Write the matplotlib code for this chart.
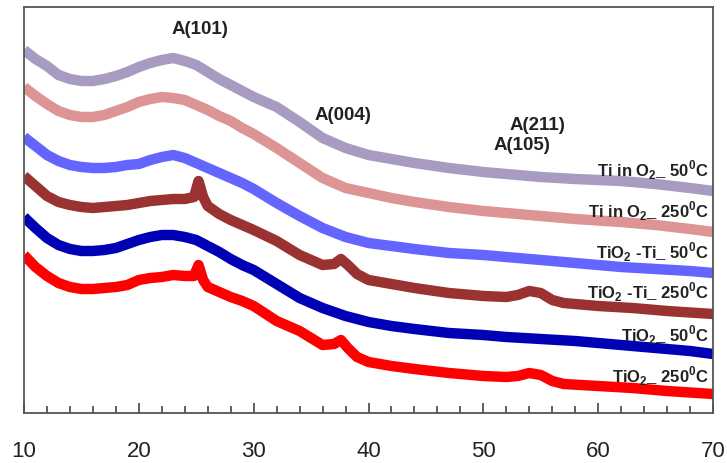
import matplotlib
matplotlib.use("Agg")
import matplotlib.pyplot as plt
from matplotlib.ticker import MultipleLocator

plt.rcParams['font.family'] = ['Liberation Sans', 'DejaVu Sans']
plt.rcParams['mathtext.fontset'] = 'custom'
plt.rcParams['mathtext.rm'] = 'Liberation Sans:bold'
plt.rcParams['mathtext.bf'] = 'Liberation Sans:bold'

# 2-theta grids (degrees)
two_theta_smooth = [10, 11, 12, 13, 14, 15, 16, 17, 18, 19, 20, 21, 22, 23, 24, 25, 26, 27,
                    28, 29, 30, 32, 34, 36, 38, 40, 42, 44, 47, 50, 52, 55, 58, 62, 65, 68, 70]
two_theta_peaks = [10, 11, 12, 13, 14, 15, 16, 17, 18, 19, 20, 21, 22, 23, 24, 24.8, 25.2,
                   25.6, 26, 27, 28, 29, 30, 32, 34, 36, 37, 37.6, 38.2, 39, 40, 42, 44, 47,
                   50, 52, 53, 54, 55, 56, 57, 60, 63, 66, 70]

# intensities (arbitrary units, stacked)
ti_o2_50 = [363, 354, 347, 338, 334, 332, 332, 334, 337, 341, 346, 350, 353, 355, 352, 348,
            341, 334, 328, 322, 316, 306, 291, 275, 265, 258, 254, 250, 245, 241, 239, 236,
            234, 232, 229, 225, 222]
ti_o2_250 = [326, 317, 309, 302, 298, 296, 296, 298, 302, 306, 311, 314, 316, 315, 313, 308,
             303, 297, 292, 285, 279, 265, 250, 235, 225, 220, 215, 211, 206, 202, 200, 197,
             194, 191, 188, 184, 181]
tio2_ti_50 = [276, 267, 258, 252, 248, 246, 245, 245, 246, 248, 249, 253, 256, 258, 255, 250,
              245, 240, 235, 230, 224, 210, 197, 185, 176, 170, 167, 164, 160, 158, 156, 153,
              150, 146, 144, 142, 140]
tio2_50 = [196, 185, 175, 168, 164, 162, 162, 163, 165, 169, 173, 176, 178, 178, 176, 173,
           167, 161, 154, 148, 143, 129, 115, 105, 97, 91, 87, 84, 80, 78, 76, 74,
           72, 68, 65, 62, 59]
tio2_ti_250 = [237, 227, 217, 211, 208, 206, 205, 206, 207, 208, 210, 212, 213, 214, 214, 216,
               232, 216, 207, 199, 193, 188, 183, 172, 158, 148, 149, 154, 148, 139, 133, 129,
               125, 120, 117, 116, 118, 122, 120, 113, 110, 107, 105, 102, 99]
tio2_250 = [158, 146, 137, 130, 126, 124, 124, 125, 126, 128, 133, 135, 136, 138, 137, 137,
            148, 133, 126, 121, 116, 112, 107, 92, 82, 68, 69, 73, 65, 56, 51, 47,
            44, 40, 37, 36, 37, 40, 38, 32, 29, 27, 25, 22, 19]

labels = [r"Ti in O$_\mathregular{2}$_ 50$^\mathregular{0}$C",
          r"Ti in O$_\mathregular{2}$_ 250$^\mathregular{0}$C",
          r"TiO$_\mathregular{2}$ -Ti_ 50$^\mathregular{0}$C",
          r"TiO$_\mathregular{2}$ -Ti_ 250$^\mathregular{0}$C",
          r"TiO$_\mathregular{2}$_ 50$^\mathregular{0}$C",
          r"TiO$_\mathregular{2}$_ 250$^\mathregular{0}$C"]
label_y = [243, 202, 161, 121, 78, 37]

peak_names = ["A(101)", "A(004)", "A(211)", "A(105)"]
peak_x = [25.3, 37.8, 54.7, 53.4]
peak_y = [383, 297, 288, 267]

series = [
    (two_theta_smooth, ti_o2_50, "#a79bc2"),
    (two_theta_smooth, ti_o2_250, "#dc9594"),
    (two_theta_smooth, tio2_ti_50, "#6464ff"),
    (two_theta_peaks, tio2_ti_250, "#9a3232"),
    (two_theta_smooth, tio2_50, "#0000b4"),
    (two_theta_peaks, tio2_250, "#ff0000"),
]

fig = plt.figure(figsize=(7.27, 4.63), dpi=100)
ax = fig.add_axes([24 / 727, 50 / 463, 689 / 727, 406 / 463])

for x, y, c in series:
    ax.plot(x, y, color=c, lw=7.5, solid_joinstyle='round', solid_capstyle='butt')

for t, yy in zip(labels, label_y):
    ax.text(69.65, yy, t, ha='right', va='center', fontsize=12, fontweight='bold',
            color='#222222')

for t, xx, yy in zip(peak_names, peak_x, peak_y):
    ax.text(xx, yy, t, ha='center', va='center', fontsize=13.5, fontweight='bold',
            color='#222222')

ax.set_xlim(10, 70)
ax.set_ylim(0, 406)
ax.xaxis.set_major_locator(MultipleLocator(10))
ax.xaxis.set_minor_locator(MultipleLocator(2))
ax.tick_params(axis='x', which='major', direction='in', length=7, width=1.2,
               color='#444444', labelsize=16, pad=20, labelcolor='#222222')
ax.tick_params(axis='x', which='minor', direction='in', length=5, width=1.2,
               color='#444444')
ax.set_yticks([])
for s in ax.spines.values():
    s.set_color('#555555')
    s.set_linewidth(1.3)

fig.savefig("out.png", dpi=100)
